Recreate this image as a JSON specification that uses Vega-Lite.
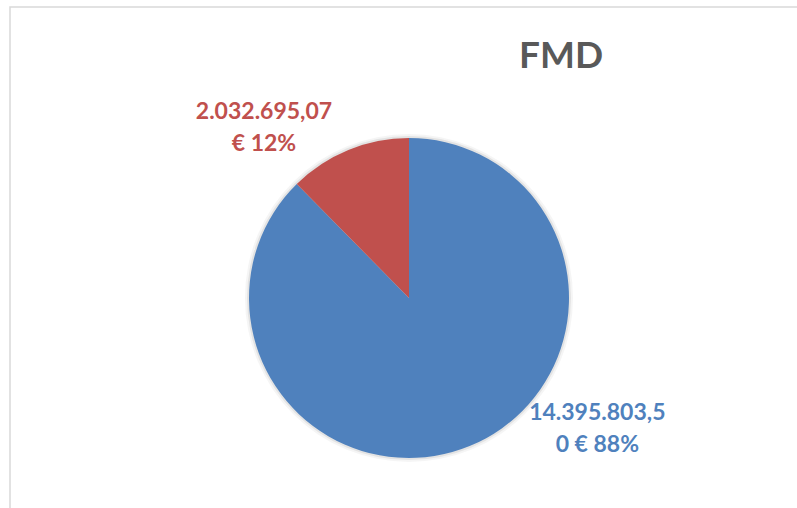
{
  "$schema": "https://vega.github.io/schema/vega-lite/v6.json",
  "autosize": {"type": "none"},
  "padding": {"left": 10, "top": 7, "right": -11, "bottom": -81},
  "width": 798,
  "height": 582,
  "background": "white",
  "config": {"view": {"stroke": null}},
  "title": {
    "text": "FMD",
    "anchor": "middle",
    "dx": 152,
    "offset": -99,
    "baseline": "alphabetic",
    "font": "Lato",
    "fontSize": 37,
    "fontWeight": "bold",
    "color": "#595959"
  },
  "data": {
    "values": [
      {"cat": "Quota 1", "value": 14395803.5, "label": "14.395.803,5\n0 € 88%"},
      {"cat": "Quota 2", "value": 2032695.07, "label": "2.032.695,07\n€ 12%"}
    ]
  },
  "layer": [
    {
      "data": {"values": [{"frame": "chart area"}]},
      "mark": {"type": "rect", "fill": null, "stroke": "#d9d9d9", "strokeWidth": 1.5},
      "encoding": {
        "x": {"value": 0},
        "y": {"value": 0},
        "x2": {"value": "width"},
        "y2": {"value": "height"}
      }
    },
    {
      "data": {"values": [{"shadow": "outer"}]},
      "mark": {"type": "arc", "outerRadius": 164, "fill": "#000000", "opacity": 0.04},
      "encoding": {}
    },
    {
      "data": {"values": [{"shadow": "inner"}]},
      "mark": {"type": "arc", "outerRadius": 162, "fill": "#000000", "opacity": 0.07},
      "encoding": {}
    },
    {
      "mark": {"type": "arc", "outerRadius": 160},
      "encoding": {
        "theta": {"field": "value", "type": "quantitative", "stack": true},
        "color": {
          "field": "cat",
          "type": "nominal",
          "scale": {"domain": ["Quota 1", "Quota 2"], "range": ["#4f81bd", "#c0504d"]},
          "legend": null
        }
      }
    },
    {
      "mark": {"type": "text", "radius": 190, "dx": -73, "dy": -10, "font": "Lato", "fontSize": 23, "fontWeight": "bold", "lineHeight": 32, "lineBreak": "\n", "align": "center", "baseline": "middle"},
      "encoding": {
        "theta": {"field": "value", "type": "quantitative", "stack": true},
        "color": {"field": "cat", "type": "nominal", "legend": null},
        "text": {"condition": {"test": "datum.cat === 'Quota 2'", "field": "label"}, "value": ""}
      }
    },
    {
      "mark": {"type": "text", "radius": 175, "dx": 122, "dy": -47, "font": "Lato", "fontSize": 23, "fontWeight": "bold", "lineHeight": 32, "lineBreak": "\n", "align": "center", "baseline": "middle"},
      "encoding": {
        "theta": {"field": "value", "type": "quantitative", "stack": true},
        "color": {"field": "cat", "type": "nominal", "legend": null},
        "text": {"condition": {"test": "datum.cat === 'Quota 1'", "field": "label"}, "value": ""}
      }
    }
  ]
}
